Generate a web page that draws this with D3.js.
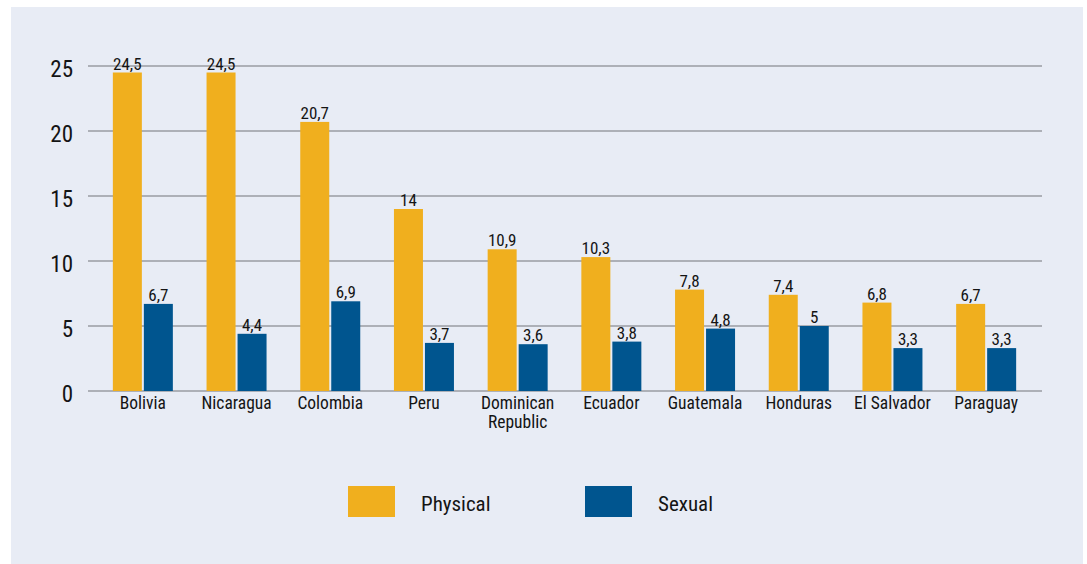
<!DOCTYPE html>
<html>
<head>
<meta charset="utf-8">
<script src="https://cdn.jsdelivr.net/npm/d3@7"></script>
<style>
  html, body { margin: 0; padding: 0; background: #ffffff; }
  svg text { font-family: "Liberation Sans Narrow", "Arial Narrow", "Roboto Condensed", "Liberation Sans", sans-serif; fill: #141414; }
</style>
</head>
<body>
<svg id="chart" width="1087" height="564"></svg>
<script>
const categories = ["Bolivia", "Nicaragua", "Colombia", "Peru", "Dominican\nRepublic", "Ecuador", "Guatemala", "Honduras", "El Salvador", "Paraguay"];
const physical = [24.5, 24.5, 20.7, 14, 10.9, 10.3, 7.8, 7.4, 6.8, 6.7];
const sexual = [6.7, 4.4, 6.9, 3.7, 3.6, 3.8, 4.8, 5, 3.3, 3.3];
const yTicks = [0, 5, 10, 15, 20, 25];
const seriesNames = ["Physical", "Sexual"];
const seriesColors = ["#f0af1e", "#00558f"];

const svg = d3.select("#chart");

// panel background
svg.append("rect")
  .attr("x", 11).attr("y", 7)
  .attr("width", 1072).attr("height", 557)
  .attr("fill", "#e8ecf5");

const y = d3.scaleLinear().domain([0, 25]).range([391, 66]);
const x = d3.scaleBand().domain(d3.range(categories.length)).range([96, 1033]).padding(0);

const barW = 29, gap = 2;

// gridlines
svg.append("g")
  .selectAll("line")
  .data(yTicks)
  .join("line")
  .attr("x1", 88).attr("x2", 1042)
  .attr("y1", d => y(d)).attr("y2", d => y(d))
  .attr("stroke", "#9a9ca2")
  .attr("stroke-width", 1.5);

// y tick labels
svg.append("g")
  .selectAll("text")
  .data(yTicks)
  .join("text")
  .attr("x", 73)
  .attr("y", d => y(d) + 11)
  .attr("text-anchor", "end")
  .attr("font-size", 23)
  .text(d => d);

const fmt = v => String(v).replace(".", ",");
const series = [physical, sexual];

series.forEach((vals, s) => {
  const g = svg.append("g");
  const xOff = c => x(c) + x.bandwidth() / 2 - barW - gap / 2 + s * (barW + gap);
  g.selectAll("rect")
    .data(vals)
    .join("rect")
    .attr("x", (d, i) => xOff(i))
    .attr("y", d => y(d))
    .attr("width", barW)
    .attr("height", d => y(0) - y(d))
    .attr("fill", seriesColors[s]);
  g.selectAll("text")
    .data(vals)
    .join("text")
    .attr("x", (d, i) => xOff(i) + barW / 2)
    .attr("y", d => y(d) - 3)
    .attr("text-anchor", "middle")
    .attr("font-size", 17)
    .text(d => fmt(d));
});

// category labels, one text per line so long names wrap
const catG = svg.append("g");
categories.forEach((c, i) => {
  c.split("\n").forEach((line, k) => {
    catG.append("text")
      .attr("x", x(i) + x.bandwidth() / 2)
      .attr("y", 409 + k * 19)
      .attr("text-anchor", "middle")
      .attr("font-size", 17.5)
      .text(line);
  });
});

// legend
const legendX = [348, 585];
seriesNames.forEach((n, s) => {
  svg.append("rect")
    .attr("x", legendX[s]).attr("y", 486)
    .attr("width", 47).attr("height", 31)
    .attr("fill", seriesColors[s]);
  svg.append("text")
    .attr("x", legendX[s] + 73)
    .attr("y", 511)
    .attr("font-size", 21)
    .text(n);
});
</script>
</body>
</html>
